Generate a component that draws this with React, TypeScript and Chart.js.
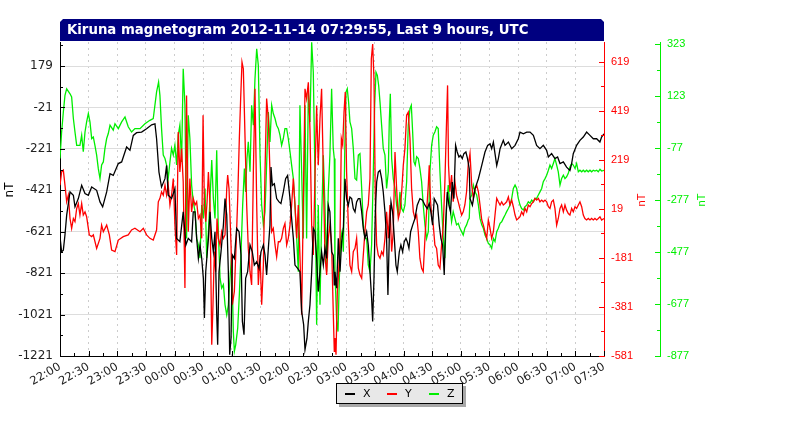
import React, { useEffect, useRef } from "react";
import { Chart, registerables } from "chart.js";

Chart.register(...registerables);

// minutes after 22:00 -> label every 30 minutes
const timeLabels = [
  "22:00", "22:30", "23:00", "23:30", "00:00", "00:30", "01:00", "01:30", "02:00", "02:30",
  "03:00", "03:30", "04:00", "04:30", "05:00", "05:30", "06:00", "06:30", "07:00", "07:30",
];

const xTicks = [-1221, -1021, -821, -621, -421, -221, -21, 179];
const yTicks = [-581, -381, -181, 19, 219, 419, 619];
const zTicks = [-877, -677, -477, -277, -77, 123, 323];

const titleText = "Kiruna magnetogram 2012-11-14 07:29:55, Last 9 hours, UTC";

// [minutes since 22:00, nT]
const seriesX: [number, number][] = [
  [0, -645], [1.7, -718], [3.5, -710], [5.2, -637], [7, -541], [10.5, -429], [14, -445], [15.7, -501],
  [19.2, -461], [22.7, -397], [26.2, -437], [29.7, -445], [33.2, -405], [38.4, -421], [41.9, -477],
  [44.7, -501], [48.9, -429], [52.4, -341], [55.8, -349], [61.1, -292], [64.6, -284], [69.8, -212],
  [73.3, -228], [76.8, -156], [80.3, -143], [85.5, -140], [90.7, -124], [96, -105], [99.5, -100],
  [101.2, -172], [103.7, -333], [106.4, -405], [110, -365], [111.7, -301], [113.4, -445], [116.9, -461],
  [120.4, -413], [122.2, -653], [125.6, -669], [129.1, -525], [131.9, -685], [134.4, -653], [137.9, -669],
  [139.6, -525], [141.5, -525], [143.2, -653], [145, -750], [146.7, -685], [148.5, -750], [150.2, -846],
  [151.3, -1038], [152.7, -814], [155.5, -653], [157.2, -525], [159, -653], [160.7, -718], [162.4, -621],
  [164.2, -1022], [165.2, -1167], [166.6, -814], [168.7, -718], [171.2, -589], [172.9, -461], [174.7, -541],
  [176.4, -814], [177.8, -1215], [179.2, -1135], [180.6, -734], [182.7, -750], [185.1, -605], [187.6, -621],
  [189.7, -734], [191.1, -1054], [192.8, -1118], [194.5, -846], [196.6, -814], [199.1, -685], [201.5, -718],
  [203.6, -782], [206.1, -766], [208.5, -798], [210.6, -718], [213.1, -685], [214.8, -734], [216.5, -830],
  [218.3, -701], [220, -589], [221.1, -309], [222.5, -397], [224.6, -389], [227, -461], [229.5, -477],
  [231.5, -485], [234, -429], [236.4, -365], [238.5, -349], [241, -461], [242.7, -557], [244.5, -653],
  [246.2, -782], [249, -798], [251.4, -814], [253.2, -1006], [255.3, -1070], [256.7, -1191], [258.8, -1135],
  [260.2, -1054], [261.9, -974], [263.7, -814], [265.4, -605], [267.1, -621], [268.9, -750], [270.6, -910],
  [272.4, -814], [274.1, -718], [275.9, -782], [277.6, -701], [279.4, -750], [281.1, -493], [282.8, -525],
  [284.6, -718], [286.3, -734], [287.4, -878], [288.1, -814], [289.9, -894], [291.6, -653], [293.4, -814],
  [295.1, -669], [296.9, -605], [298.6, -365], [300.3, -461], [302.1, -493], [303.8, -453], [305.6, -461],
  [307.3, -509], [309.1, -525], [310.8, -477], [312.6, -461], [314.3, -461], [316.1, -525], [317.8, -605],
  [319.5, -653], [321.3, -621], [323, -685], [324.8, -814], [326.5, -942], [327.6, -1054], [329, -846],
  [330.4, -525], [331.8, -381], [333.5, -333], [335.3, -325], [337, -365], [338.7, -429], [340.5, -525],
  [342.2, -653], [343.6, -926], [345, -653], [346.8, -477], [348.5, -525], [350.3, -653], [352, -782],
  [353.4, -814], [355.5, -718], [357.2, -685], [359, -718], [360.7, -669], [362.5, -653], [363.9, -669],
  [365.6, -701], [367.4, -621], [369.5, -589], [371.9, -557], [374.3, -493], [377.1, -461], [379.9, -469],
  [382.4, -493], [384.8, -509], [386.9, -485], [388.6, -525], [390.4, -589], [392.1, -461], [393.9, -477],
  [395.6, -493], [397.4, -589], [399.1, -653], [400.9, -685], [402.6, -830], [404, -589], [405.8, -429],
  [407.5, -493], [409.2, -525], [411, -381], [412.7, -461], [414.5, -204], [416.2, -236], [418, -260],
  [419.7, -252], [421.5, -268], [423.2, -244], [425.3, -236], [427, -268], [428.8, -317], [429.6, -461],
  [432.1, -493], [434.9, -413], [438.4, -365], [441.9, -301], [445.3, -236], [448.1, -204], [450.6, -196],
  [452.3, -220], [454.1, -188], [455.8, -244], [457.6, -301], [459.3, -268], [461.1, -220], [464.5, -180],
  [466.3, -204], [469.8, -188], [473.3, -220], [476.8, -204], [480.2, -172], [482, -140], [485.5, -148],
  [489, -140], [492.5, -140], [496, -156], [499.4, -204], [502.9, -220], [506.4, -204], [509.9, -228],
  [511.7, -260], [515.1, -244], [518.6, -268], [521.4, -260], [523.9, -292], [527.4, -284], [530.8, -309],
  [534.3, -325], [536.1, -292], [537.8, -244], [541.3, -204], [544.8, -180], [548.3, -164], [551.8, -140],
  [555.3, -156], [558.8, -172], [562.3, -172], [565.7, -188], [567.5, -164], [570, -148],
];

const seriesY: [number, number][] = [
  [0, 116], [1.7, 170], [3.5, 177], [5.2, 116], [7, 48], [8.7, 75], [10.5, -20], [12.2, -60], [14, -20],
  [15.7, -33], [17.5, 21], [19.2, 41], [20.9, -6], [22.7, 41], [24.4, -6], [26.2, 7], [27.9, -13],
  [30.7, -87], [33.2, -94], [34.9, -87], [38.4, -142], [41.9, -101], [43.6, -47], [45.4, -74], [48.9, -47],
  [51.7, -87], [54.1, -149], [57.6, -155], [61.1, -108], [66.3, -94], [71.5, -87], [75, -67], [78.5, -60],
  [83.8, -74], [87.3, -60], [90.7, -87], [94.2, -101], [97.7, -108], [101.2, -67], [103, 48], [104.7, 62],
  [106.4, 89], [108.2, 75], [110, 116], [111.7, 75], [113.4, 116], [115.2, 35], [116.9, 75], [118.7, 143],
  [120.4, -47], [122.2, -169], [123.9, 333], [125.6, 170], [127.4, 265], [129.1, 130], [130.9, -304],
  [132.6, 482], [134.4, -74], [136.1, 143], [137.9, 7], [139.6, 62], [141.5, 35], [143.2, 48], [145, -20],
  [146.7, -6], [148.5, -101], [149.9, 401], [151.3, 35], [152.7, -33], [154.1, 48], [155.5, 170], [157.2, 35],
  [159, -535], [160.3, -372], [161.7, -155], [163.1, -237], [164.5, -20], [165.9, -101], [167.7, -128],
  [169.4, -74], [171.2, -101], [172.9, -87], [174.7, 102], [175.7, 157], [177.1, 102], [179.2, -128],
  [180.6, -372], [182.7, -318], [184.8, -101], [186.2, 62], [187.9, 306], [189.3, 469], [190.7, 618],
  [192.1, 591], [193.9, 306], [195.6, 35], [197.3, -142], [199.1, -237], [200.8, -291], [202.6, 170],
  [204.3, 509], [206.1, 35], [207.8, -291], [209.6, -169], [211.3, -372], [213.1, -210], [214.8, 170],
  [216.5, 469], [218.3, 387], [220, 170], [221.8, -74], [223.5, -60], [225.3, -128], [227, -176],
  [228.8, -115], [230.5, -115], [232.2, -101], [234, -60], [235.7, -40], [237.5, -128], [239.2, -101],
  [241, -47], [242.7, 35], [244.5, 143], [246.2, 35], [248, -101], [249.7, 35], [251.4, -169], [253.2, -413],
  [254.9, 35], [256.7, 509], [258.4, 469], [260.2, 536], [261.9, 346], [263.7, -47], [265.4, -169],
  [267.1, 143], [268.9, 441], [270.6, 197], [272.4, 387], [274.1, 509], [275.9, 170], [277.6, -169],
  [279.4, -250], [281.1, -101], [282.8, -47], [284.6, -128], [286.3, -399], [287.4, -562], [288.1, -508],
  [289.2, -576], [290.6, -318], [292, -237], [293.4, -101], [294.8, 306], [296.2, 279], [297.6, 414],
  [298.9, 496], [300.3, 170], [302.1, -47], [303.8, -210], [305.6, -237], [307.3, -155], [309.1, -142],
  [310.8, -101], [312.6, -223], [314.3, -250], [316.1, -264], [317.8, -169], [319.5, -74], [321.3, 7],
  [323, 35], [324.8, 143], [326.2, 631], [327.6, 692], [329, 550], [330.4, 62], [331.8, -128], [333.5, -169],
  [335.3, -182], [337, -155], [338.7, -169], [340.5, -101], [342.2, 7], [344, -101], [345.7, 35],
  [347.5, -155], [349.2, -74], [351, 251], [352.7, 102], [354.5, -20], [356.2, 7], [358, 89], [359.7, 197],
  [361.4, 265], [363.2, 401], [364.9, 414], [366.7, 306], [368.4, 102], [370.2, 7], [371.9, -20], [373.7, -6],
  [375.4, -74], [377.1, -182], [378.9, -223], [380.6, -237], [382.4, -101], [384.1, 7], [385.9, 116],
  [386.9, 197], [388.3, 48], [389.7, -20], [391.1, -47], [392.8, -128], [394.6, -142], [396.3, -210],
  [398.1, -223], [399.8, -128], [401.6, -47], [403.3, 130], [405.1, 387], [406.1, 523], [407.1, 197],
  [408.5, 89], [410.3, 157], [412, 48], [413.8, 130], [415.5, 75], [417.3, 48], [419, 21], [420.8, -6],
  [422.5, 7], [424.2, 35], [426, 89], [427.7, 197], [428.8, 224], [429.6, 245], [431.4, 116], [433.1, 62],
  [434.9, 102], [436.6, 116], [438.4, 89], [440.1, 35], [441.9, -26], [443.6, -47], [445.3, -74],
  [447.1, -101], [448.8, -26], [450.6, -60], [452.3, -101], [454.1, -74], [455.8, -6], [457.6, 62],
  [459.3, 48], [461.1, 35], [462.8, 48], [464.5, 35], [466.3, 41], [468, 48], [469.8, 68], [471.5, 35],
  [473.3, 55], [475, 28], [476.8, -6], [478.5, -26], [480.2, -20], [482, -13], [483.7, 7], [485.5, -6],
  [487.2, 21], [489, 7], [490.7, 35], [492.5, 28], [494.2, 41], [496, 48], [497.7, 62], [499.4, 55],
  [501.2, 62], [502.9, 48], [504.7, 55], [506.4, 48], [508.2, 55], [509.9, 48], [511.7, 28], [513.4, 21],
  [515.1, 48], [516.9, 55], [518.6, 21], [520.4, -47], [522.1, -20], [523.9, 21], [525.6, 35], [527.4, 7],
  [529.1, 35], [530.8, 14], [532.6, 0], [534.3, -6], [536.1, 21], [537.8, 7], [539.6, 28], [541.3, 21],
  [543.1, 35], [544.8, 48], [546.6, 28], [548.3, -6], [550, -20], [551.8, -26], [553.5, -20], [555.3, -26],
  [557, -20], [558.8, -26], [560.5, -20], [562.3, -26], [564, -20], [565.8, -13], [567.5, -26], [570, -20],
];

const seriesZ: [number, number][] = [
  [0, -118], [1.7, -16], [3.5, 61], [5.2, 125], [7, 150], [10.5, 131], [12.2, 119], [14, 36], [15.7, -16],
  [17.5, -67], [20.9, -67], [22.7, -28], [24.4, -92], [26.2, -16], [27.9, 23], [29.7, 55], [31.4, 23],
  [33.2, -41], [34.9, -35], [36.6, -67], [38.4, -105], [40.1, -156], [41.9, -195], [43.6, -143], [45.4, -131],
  [47.1, -79], [48.9, -41], [50.6, -22], [52.4, 10], [55.8, -9], [57.6, 16], [61.1, -3], [64.6, 23],
  [68.1, 42], [71.5, 4], [75, -16], [78.5, -3], [83.8, -3], [89, 16], [94.2, 29], [97.7, 36], [101.2, 138],
  [103.3, 176], [104.7, 125], [106.4, -3], [108.2, -105], [110, -118], [111.7, -143], [113.4, -195],
  [115.2, -131], [116.9, -79], [118.7, -105], [120.4, -67], [122.2, -143], [123.9, -28], [125.6, 10],
  [127.4, -131], [129.1, 227], [130.9, 87], [132.6, -425], [134.4, 48], [136.1, -41], [137.9, -220],
  [139.6, -284], [141.5, -322], [143.2, -425], [145, -450], [146.7, -501], [148.5, -297], [150.2, -348],
  [152, -233], [153.7, -501], [155.5, -399], [157.2, -271], [159, -124], [160.7, -271], [162.4, -348],
  [164.2, -86], [165.9, -399], [167.7, -578], [169.4, -616], [171.2, -603], [172.9, -680], [174.7, -719],
  [176.4, -680], [178.1, -578], [179.9, -488], [181.6, -783], [182.7, -859], [184.1, -834], [186.2, -770],
  [187.9, -642], [189.7, -476], [191.4, -297], [193.2, -156], [194.5, -246], [195.9, -118], [197.3, -54],
  [199.1, -169], [200.8, 87], [202.6, 10], [204.3, 189], [206.1, 304], [207.8, 240], [209.6, -105],
  [211.3, -297], [213.1, -373], [214.8, -322], [216.5, -143], [218.3, 61], [220, -54], [221.8, 87],
  [223.5, 55], [225.3, 36], [227, 10], [228.8, -3], [230.5, -28], [232.2, -67], [234, -41], [235.7, -3],
  [237.5, -3], [239.2, -41], [241, -92], [242.7, -143], [244.5, -195], [246.2, -297], [248, -425],
  [249.7, -553], [251.4, 87], [253.2, -169], [254.9, -425], [256.7, 87], [258.4, -425], [260.2, 138],
  [261.9, 23], [263.7, 329], [265.4, 214], [267.1, -169], [268.9, -757], [270.6, -297], [272.4, -680],
  [274.1, -361], [275.9, -105], [277.6, -297], [279.4, -553], [281.1, -246], [282.8, -105], [284.6, 150],
  [286.3, -79], [287.4, -118], [288.1, -553], [289.9, -744], [291.3, -783], [292.7, -578], [294.1, -425],
  [295.5, -399], [296.9, -476], [298.3, -105], [299.7, 138], [301, 150], [302.4, 99], [303.8, 23],
  [305.6, -3], [307.3, -79], [309.1, -195], [310.8, -201], [312.6, -105], [314.3, -99], [316.1, -233],
  [317.8, -373], [319.5, -425], [321.3, -425], [323, -527], [324.8, -553], [326.5, -450], [328.3, -169],
  [329.7, 87], [331.1, 214], [332.5, 202], [333.9, 163], [335.3, 99], [337, 10], [338.7, -79], [340.5, -105],
  [342.2, -233], [344, -169], [345, 23], [346.1, 131], [347.5, -118], [349.2, -195], [351, -233],
  [352.7, -297], [354.5, -335], [356.2, -246], [358, -310], [359.7, -322], [361.4, -297], [363.2, -207],
  [364.9, 10], [366.7, 74], [368.1, 87], [369.5, -16], [370.9, -131], [372.2, -143], [373.7, -111],
  [375.4, -118], [377.1, -156], [378.9, -207], [380.6, -297], [382.4, -373], [384.1, -425], [385.9, -399],
  [387.6, -169], [389.4, -67], [391.1, -28], [392.8, -16], [394.6, 4], [396.3, -3], [398.1, -169],
  [399.8, -297], [401.6, -425], [403.3, -501], [405.1, -297], [406.8, -220], [408.5, -297], [410.3, -361],
  [412, -322], [413.8, -348], [415.5, -373], [417.3, -367], [419, -386], [420.8, -399], [422.5, -412],
  [424.2, -386], [426, -373], [427.7, -354], [428.8, -348], [429.6, -271], [431.4, -258], [433.1, -220],
  [434.9, -246], [436.6, -258], [438.4, -297], [440.1, -348], [441.9, -373], [443.6, -386], [445.3, -412],
  [447.1, -425], [448.8, -444], [450.6, -450], [452.3, -463], [454.1, -425], [455.8, -437], [457.6, -399],
  [459.3, -386], [461.1, -367], [462.8, -361], [464.5, -348], [466.3, -335], [468, -322], [469.8, -310],
  [471.5, -297], [473.3, -271], [475, -233], [476.8, -220], [478.5, -233], [480.2, -271], [482, -297],
  [483.7, -310], [485.5, -316], [487.2, -303], [489, -297], [490.7, -284], [492.5, -290], [494.2, -278],
  [496, -284], [497.7, -271], [499.4, -271], [501.2, -258], [502.9, -246], [504.7, -233], [506.4, -207],
  [508.2, -195], [509.9, -182], [511.7, -163], [513.4, -143], [515.1, -156], [516.9, -137], [518.6, -118],
  [520.4, -143], [522.1, -169], [523.9, -220], [525.6, -195], [527.4, -182], [529.1, -195], [530.8, -188],
  [532.6, -175], [534.3, -150], [536.1, -137], [537.8, -143], [539.6, -156], [541.3, -137], [543.1, -169],
  [544.8, -163], [546.6, -169], [548.3, -163], [550, -169], [551.8, -163], [553.5, -169], [555.3, -163],
  [557, -169], [558.8, -163], [560.5, -166], [562.3, -163], [564, -169], [565.8, -159], [567.5, -166],
  [570, -163],
];

const GREEN = "#00ee00";

const toPoints = (s: [number, number][]) => s.map(([x, y]) => ({ x, y }));
const plain = (v: any) => String(v);

// tick marks drawn inward, major + minor, like the original plotter
const innerTicks = {
  id: "innerTicks",
  afterDatasetsDraw(chart: any) {
    const { ctx, chartArea } = chart;
    const sx = chart.scales.x;
    ctx.save();
    ctx.lineWidth = 1;
    const vline = (x: number, y0: number, y1: number) => {
      ctx.beginPath();
      ctx.moveTo(Math.round(x) + 0.5, y0);
      ctx.lineTo(Math.round(x) + 0.5, y1);
      ctx.stroke();
    };
    const hline = (y: number, x0: number, x1: number) => {
      ctx.beginPath();
      ctx.moveTo(x0, Math.round(y) + 0.5);
      ctx.lineTo(x1, Math.round(y) + 0.5);
      ctx.stroke();
    };
    ctx.strokeStyle = "#000";
    for (let m = 0; m <= 570; m += 15) {
      const px = sx.getPixelForValue(m);
      vline(px, chartArea.bottom, chartArea.bottom - (m % 30 === 0 ? 5 : 3));
    }
    const axes: [string, number[], string, number, number][] = [
      ["yX", xTicks, "#000", chartArea.left, 1],
      ["yY", yTicks, "#ff0000", chartArea.right, -1],
      ["yZ", zTicks, GREEN, chart.scales.yZ.left, -1],
    ];
    axes.forEach(([id, ticks, color, x0, dir]) => {
      const sc = chart.scales[id];
      ctx.strokeStyle = color;
      ticks.forEach((v) => {
        hline(sc.getPixelForValue(v), x0, x0 + dir * 5);
        const mid = sc.getPixelForValue(v + 100);
        if (mid >= chartArea.top) hline(mid, x0, x0 + dir * 3);
      });
    });
    ctx.restore();
  },
};

const decorations = {
  id: "decorations",
  afterDraw(chart: any) {
    const { ctx, chartArea } = chart;
    ctx.save();
    // title bar
    const l = chartArea.left;
    const r = chartArea.right;
    const t = 19;
    const b = chartArea.top - 1;
    ctx.fillStyle = "#000080";
    ctx.beginPath();
    ctx.moveTo(l, b);
    ctx.lineTo(l, t + 3);
    ctx.lineTo(l + 3, t);
    ctx.lineTo(r - 3, t);
    ctx.lineTo(r, t + 3);
    ctx.lineTo(r, b);
    ctx.closePath();
    ctx.fill();
    ctx.fillStyle = "#ffffff";
    ctx.font = "bold 13.3px 'DejaVu Sans'";
    ctx.textBaseline = "middle";
    ctx.textAlign = "left";
    ctx.fillText(titleText, l + 7, (t + b) / 2 + 1);

    // axis titles
    const vtext = (txt: string, x: number, y: number, color: string, font: string) => {
      ctx.save();
      ctx.translate(x, y);
      ctx.rotate(-Math.PI / 2);
      ctx.fillStyle = color;
      ctx.font = font;
      ctx.textAlign = "center";
      ctx.textBaseline = "middle";
      ctx.fillText(txt, 0, 0);
      ctx.restore();
    };
    vtext("nT", 10, 190, "#000", "12px 'DejaVu Sans'");
    vtext("nT", 642, 200, "#ff0000", "11px 'Liberation Sans'");
    vtext("nT", 702, 200, GREEN, "11px 'Liberation Sans'");

    // legend box
    const lx = 336;
    const ly = 383;
    const lw = 127;
    const lh = 21;
    ctx.fillStyle = "#a8a8a8";
    ctx.fillRect(lx + 3, ly + 3, lw, lh);
    ctx.fillStyle = "#e8e8e8";
    ctx.fillRect(lx, ly, lw, lh);
    ctx.strokeStyle = "#000";
    ctx.lineWidth = 1;
    ctx.strokeRect(lx + 0.5, ly + 0.5, lw - 1, lh - 1);
    const items: [string, string][] = [["X", "#000"], ["Y", "#ff0000"], ["Z", GREEN]];
    ctx.font = "11px 'DejaVu Sans'";
    ctx.textBaseline = "middle";
    items.forEach(([label, color], i) => {
      const x = lx + 9 + i * 42;
      ctx.fillStyle = color;
      ctx.fillRect(x, ly + 10, 10, 2);
      ctx.fillStyle = "#000";
      ctx.fillText(label, x + 18, ly + 11);
    });
    ctx.restore();
  },
};

const App = () => {
  const canvasRef = useRef<HTMLCanvasElement | null>(null);

  useEffect(() => {
    const ctx = canvasRef.current!.getContext("2d")!;
    const line = (label: string, data: [number, number][], color: string, axis: string) => ({
      label,
      data: toPoints(data),
      borderColor: color,
      backgroundColor: color,
      borderWidth: 1.3,
      pointRadius: 0,
      tension: 0,
      yAxisID: axis,
    });
    const chart = new Chart(ctx, {
      type: "line",
      data: {
        datasets: [
          line("X", seriesX, "#000000", "yX"),
          line("Y", seriesY, "#ff0000", "yY"),
          line("Z", seriesZ, GREEN, "yZ"),
        ],
      },
      options: {
        animation: false,
        responsive: false,
        events: [],
        layout: { padding: { top: 42, left: 0, right: 0, bottom: 0 } },
        plugins: { legend: { display: false }, tooltip: { enabled: false } },
        scales: {
          x: {
            type: "linear",
            min: 0,
            max: 570,
            afterBuildTicks: (scale: any) => {
              const t = [];
              for (let m = 0; m <= 570; m += 15) t.push({ value: m });
              scale.ticks = t;
            },
            afterFit: (scale: any) => {
              scale.height = 70;
            },
            ticks: {
              autoSkip: false,
              minRotation: 30,
              maxRotation: 30,
              padding: 4,
              color: "#222",
              font: { family: "DejaVu Sans", size: 11.5 },
              callback: (v: any) => (v % 30 === 0 ? timeLabels[v / 30] : ""),
            },
            grid: {
              drawTicks: false,
              color: (c: any) =>
                c.tick && c.tick.value % 30 === 0 && c.tick.value > 0 && c.tick.value < 570
                  ? "#cccccc"
                  : "rgba(0,0,0,0)",
            },
            border: { display: true, color: "#000", dash: [2, 4] },
          },
          yX: {
            type: "linear",
            position: "left",
            min: -1221,
            max: 295,
            afterBuildTicks: (scale: any) => {
              scale.ticks = xTicks.map((value) => ({ value }));
            },
            afterFit: (scale: any) => {
              scale.width = 60;
            },
            ticks: {
              padding: 7,
              color: "#222",
              font: { family: "DejaVu Sans", size: 12 },
              callback: plain,
            },
            grid: { drawTicks: false, color: "#dddddd" },
            border: { display: true, color: "#000" },
          },
          yY: {
            type: "linear",
            position: "right",
            min: -581,
            max: 700,
            afterBuildTicks: (scale: any) => {
              scale.ticks = yTicks.map((value) => ({ value }));
            },
            afterFit: (scale: any) => {
              scale.width = 56;
            },
            ticks: {
              padding: 7,
              color: "#ff0000",
              font: { family: "Liberation Sans", size: 11 },
              callback: plain,
            },
            grid: { drawTicks: false, drawOnChartArea: false },
            border: { display: true, color: "#ff0000" },
          },
          yZ: {
            type: "linear",
            position: "right",
            min: -877,
            max: 330,
            afterBuildTicks: (scale: any) => {
              scale.ticks = zTicks.map((value) => ({ value }));
            },
            afterFit: (scale: any) => {
              scale.width = 140;
            },
            ticks: {
              padding: 7,
              color: GREEN,
              font: { family: "Liberation Sans", size: 11 },
              callback: plain,
            },
            grid: { drawTicks: false, drawOnChartArea: false },
            border: { display: true, color: GREEN },
          },
        },
      } as any,
      plugins: [innerTicks, decorations],
    });
    return () => {
      chart.destroy();
    };
  }, []);

  return (
    <div style={{ position: "absolute", left: 0, top: 0, width: 800, height: 426, background: "#fff" }}>
      <canvas ref={canvasRef} width={800} height={426}></canvas>
    </div>
  );
};

export default App;
